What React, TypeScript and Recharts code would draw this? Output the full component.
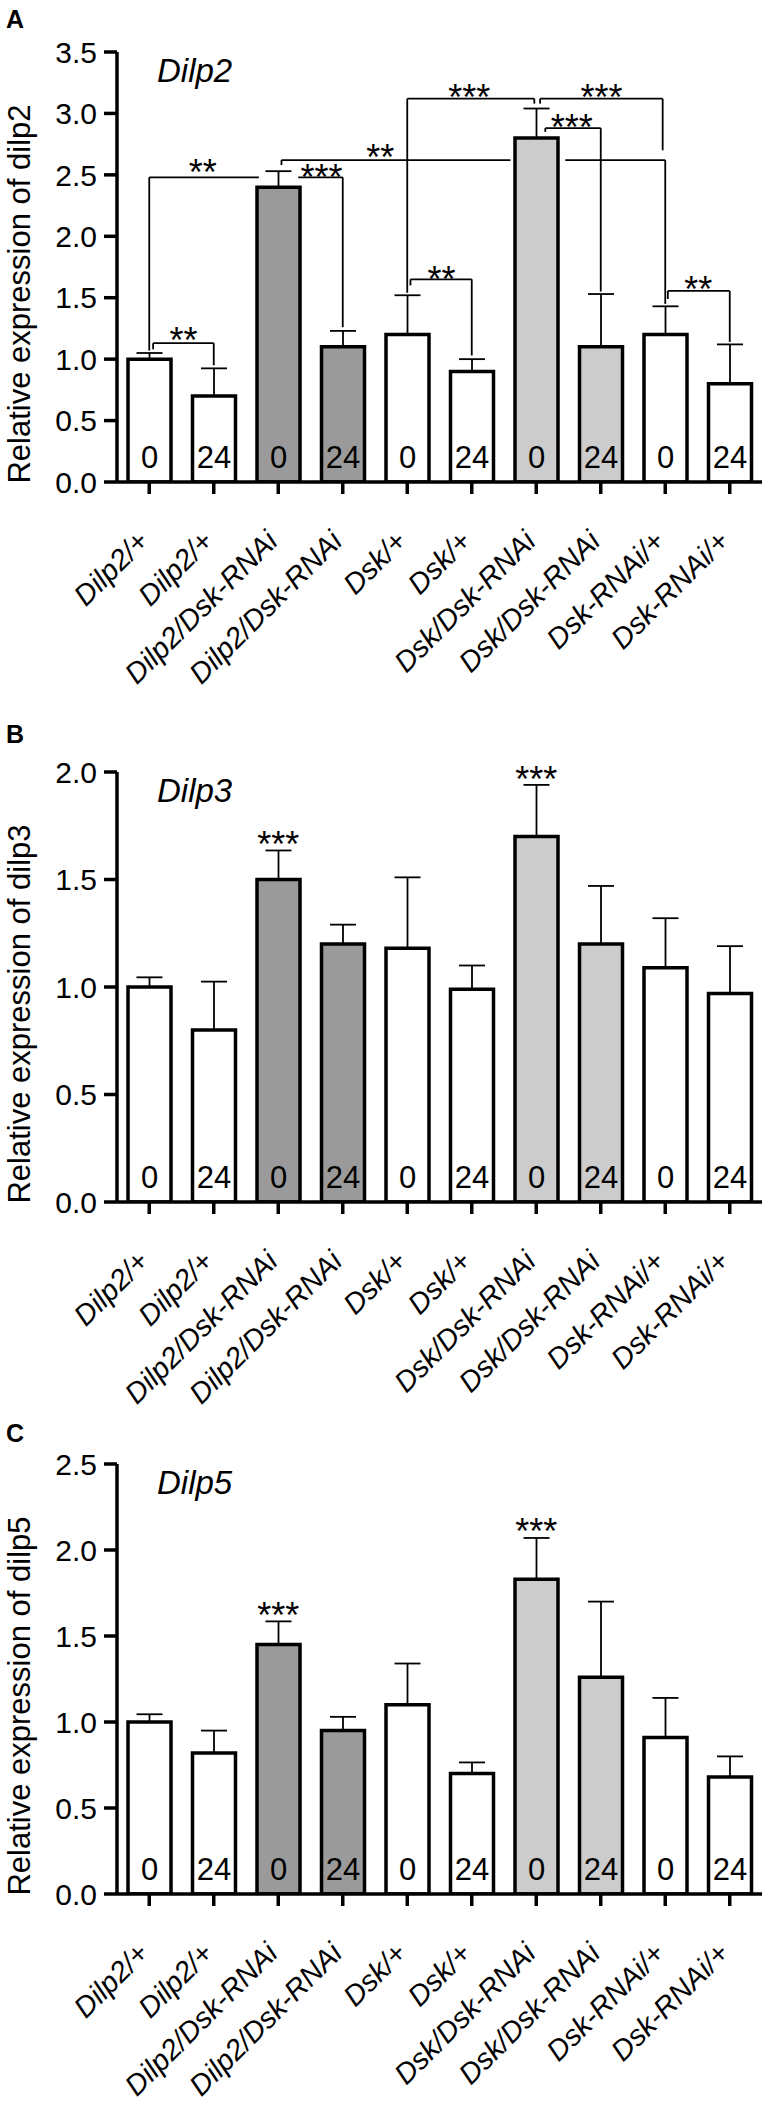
import { Bar, BarChart, Cell, ErrorBar, LabelList, ReferenceDot, ReferenceLine, XAxis, YAxis } from 'recharts';

const FONT = '"Liberation Sans", Arial, Helvetica, sans-serif';

const GENOTYPES = [
    'Dilp2/+', 'Dilp2/+', 'Dilp2/Dsk-RNAi', 'Dilp2/Dsk-RNAi', 'Dsk/+',
    'Dsk/+', 'Dsk/Dsk-RNAi', 'Dsk/Dsk-RNAi', 'Dsk-RNAi/+', 'Dsk-RNAi/+',
];
const HOURS = ['0', '24', '0', '24', '0', '24', '0', '24', '0', '24'];
const FILLS = ['#ffffff', '#ffffff', '#9a9a9a', '#9a9a9a', '#ffffff', '#ffffff', '#cccccc', '#cccccc', '#ffffff', '#ffffff'];

const DILP2_MEAN = [1.0, 0.7, 2.4, 1.1, 1.2, 0.9, 2.8, 1.1, 1.2, 0.8];
const DILP2_SEM = [0.05, 0.225, 0.13, 0.13, 0.32, 0.1, 0.24, 0.43, 0.23, 0.32];
const DILP3_MEAN = [1.0, 0.8, 1.5, 1.2, 1.18, 0.99, 1.7, 1.2, 1.09, 0.97];
const DILP3_SEM = [0.045, 0.225, 0.135, 0.09, 0.33, 0.11, 0.24, 0.27, 0.23, 0.22];
const DILP5_MEAN = [1.0, 0.82, 1.45, 0.95, 1.1, 0.7, 1.83, 1.26, 0.91, 0.68];
const DILP5_SEM = [0.045, 0.13, 0.135, 0.08, 0.24, 0.065, 0.24, 0.44, 0.23, 0.12];

const DILP2_TICKS = [0, 0.5, 1, 1.5, 2, 2.5, 3, 3.5];
const DILP3_TICKS = [0, 0.5, 1, 1.5, 2];
const DILP5_TICKS = [0, 0.5, 1, 1.5, 2, 2.5];
const X_TICKS = [0.5, 1.5, 2.5, 3.5, 4.5, 5.5, 6.5, 7.5, 8.5, 9.5];

// significance brackets, in (category, value) units
const DILP2_BRACKETS = [
    { stars: '**', at: [1.03, 1.21], lines: [[[0.56, 1.08], [0.56, 1.13], [1.5, 1.13], [1.5, 0.95]]] },
    { stars: '**', at: [1.33, 2.58], lines: [[[0.5, 1.07], [0.5, 2.48], [2.2, 2.48]]] },
    { stars: '***', at: [3.17, 2.54], lines: [[[2.81, 2.48], [3.5, 2.48], [3.5, 1.26]]] },
    { stars: '**', at: [4.08, 2.7], lines: [[[2.55, 2.58], [2.55, 2.62], [6.1, 2.62]], [[6.95, 2.62], [8.5, 2.62], [8.5, 1.45]]] },
    { stars: '***', at: [5.46, 3.19], lines: [[[4.5, 1.54], [4.5, 3.12], [6.47, 3.12], [6.47, 3.08]]] },
    { stars: '***', at: [7.51, 3.19], lines: [[[6.56, 3.08], [6.56, 3.12], [8.46, 3.12], [8.46, 2.7]]] },
    { stars: '***', at: [7.05, 2.95], lines: [[[6.64, 2.85], [6.64, 2.88], [7.5, 2.88], [7.5, 1.55]]] },
    { stars: '**', at: [5.03, 1.71], lines: [[[4.55, 1.6], [4.55, 1.65], [5.5, 1.65], [5.5, 1.03]]] },
    { stars: '**', at: [9.01, 1.63], lines: [[[8.54, 1.49], [8.54, 1.555], [9.5, 1.555], [9.5, 1.14]]] },
];
const DILP3_BRACKETS = [
    { stars: '***', at: [2.5, 1.7], lines: [] },
    { stars: '***', at: [6.5, 2.0], lines: [] },
];
const DILP5_BRACKETS = [
    { stars: '***', at: [2.5, 1.665], lines: [] },
    { stars: '***', at: [6.5, 2.15], lines: [] },
];

const PLOT_TOP = 52;
const PLOT_H = 430;

const GenotypeTick = (props: any) => {
    const { x, y, payload } = props;
    const label = GENOTYPES[Math.floor(payload.value)];
    const ax = x + 1;
    const ay = y + 47;
    return (
        <text
            x={ax}
            y={ay}
            transform={`rotate(-45 ${ax} ${ay})`}
            textAnchor="end"
            fontSize={29}
            fontStyle="italic"
            fontFamily={FONT}
            fill="#000"
        >
            {label}
        </text>
    );
};

function Panel({ top, height, means, sems, ticks, brackets }: any) {
    const data = GENOTYPES.map((g, i) => ({ x: i + 0.5, genotype: g, hour: HOURS[i], mean: means[i], sem: [0, sems[i]] }));
    const max = ticks[ticks.length - 1];
    return (
        <div style={{ position: 'absolute', left: 0, top, width: 768, height }}>
            <BarChart width={768} height={height} data={data} margin={{ top: PLOT_TOP, right: 6, left: 0, bottom: 0 }}>
                <XAxis
                    type="number"
                    dataKey="x"
                    domain={[0, 10]}
                    ticks={X_TICKS}
                    interval={0}
                    height={height - PLOT_TOP - PLOT_H}
                    tick={<GenotypeTick />}
                    tickSize={12}
                    axisLine={{ stroke: '#000', strokeWidth: 3.5 }}
                    tickLine={{ stroke: '#000', strokeWidth: 3.5 }}
                />
                <YAxis
                    domain={[0, max]}
                    ticks={ticks}
                    allowDataOverflow
                    width={117}
                    tickSize={13}
                    tickMargin={7}
                    tickFormatter={(v: number) => v.toFixed(1)}
                    tick={{ fontSize: 30, fill: '#000', fontFamily: FONT }}
                    axisLine={{ stroke: '#000', strokeWidth: 3.5 }}
                    tickLine={{ stroke: '#000', strokeWidth: 3.5 }}
                />
                {brackets.flatMap((b: any, bi: number) =>
                    b.lines.flatMap((pts: number[][], li: number) =>
                        pts.slice(1).map((p, pi) => (
                            <ReferenceLine
                                key={`br-${bi}-${li}-${pi}`}
                                segment={[{ x: pts[pi][0], y: pts[pi][1] }, { x: p[0], y: p[1] }]}
                                stroke="#000"
                                strokeWidth={1.8}
                                ifOverflow="visible"
                            />
                        ))
                    )
                )}
                <Bar dataKey="mean" barSize={43} stroke="#000" strokeWidth={3.5} isAnimationActive={false}>
                    {data.map((d, i) => (
                        <Cell key={`c-${i}`} fill={FILLS[i]} />
                    ))}
                    <ErrorBar dataKey="sem" direction="y" width={13} stroke="#000" strokeWidth={1.8} isAnimationActive={false} />
                    <LabelList dataKey="hour" position="insideBottom" offset={14} fill="#000" fontSize={31} fontFamily={FONT} />
                </Bar>
                {brackets.map((b: any, bi: number) => (
                    <ReferenceDot
                        key={`st-${bi}`}
                        x={b.at[0]}
                        y={b.at[1]}
                        r={0}
                        ifOverflow="visible"
                        shape={(p: any) => (
                            <text x={p.cx} y={p.cy + 20} textAnchor="middle" fontSize={36} fontFamily={FONT} fill="#000">
                                {b.stars}
                            </text>
                        )}
                    />
                ))}
            </BarChart>
        </div>
    );
}

const PANELS = [
    { top: 0, height: 760, letterY: 28, letter: 'A', gene: 'Dilp2', ylabel: 'Relative expression of dilp2', means: DILP2_MEAN, sems: DILP2_SEM, ticks: DILP2_TICKS, brackets: DILP2_BRACKETS },
    { top: 720, height: 760, letterY: 743, letter: 'B', gene: 'Dilp3', ylabel: 'Relative expression of dilp3', means: DILP3_MEAN, sems: DILP3_SEM, ticks: DILP3_TICKS, brackets: DILP3_BRACKETS },
    { top: 1412, height: 692, letterY: 1442, letter: 'C', gene: 'Dilp5', ylabel: 'Relative expression of dilp5', means: DILP5_MEAN, sems: DILP5_SEM, ticks: DILP5_TICKS, brackets: DILP5_BRACKETS },
];

export default function App() {
    return (
        <div style={{ position: 'absolute', left: 0, top: 0, width: 768, height: 2104, background: '#fff', fontFamily: FONT, overflow: 'hidden' }}>
            {PANELS.map((p) => (
                <Panel key={p.letter} top={p.top} height={p.height} means={p.means} sems={p.sems} ticks={p.ticks} brackets={p.brackets} />
            ))}
            <svg width={768} height={2104} style={{ position: 'absolute', left: 0, top: 0, pointerEvents: 'none' }}>
                {PANELS.map((p) => {
                    const plotTop = p.top + PLOT_TOP;
                    const cy = plotTop + 242;
                    return (
                        <g key={`t-${p.letter}`} fontFamily={FONT} fill="#000">
                            <text x={6} y={p.letterY} fontSize={25} fontWeight="bold">{p.letter}</text>
                            <text x={157} y={plotTop + 30} fontSize={33} fontStyle="italic">{p.gene}</text>
                            <text x={30} y={cy} fontSize={31} textAnchor="middle" transform={`rotate(-90 30 ${cy})`}>{p.ylabel}</text>
                        </g>
                    );
                })}
            </svg>
        </div>
    );
}
